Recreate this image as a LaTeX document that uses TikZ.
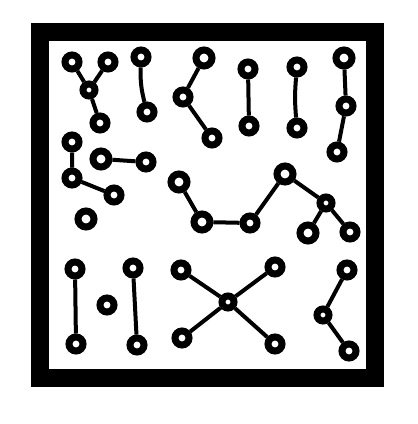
\documentclass[tikz,border=0pt]{standalone}
\begin{document}
\begin{tikzpicture}[x=1pt,y=-1pt,
  dot/.style={circle,draw=black,fill=white,line width=7pt,minimum size=14pt,inner sep=0pt},
  bigdot/.style={dot,minimum size=16pt},
  smalldot/.style={dot,minimum size=12pt},
  edge/.style={line width=4pt,black}]
\useasboundingbox (0,0) rectangle (418,424);
\fill[white] (0,0) rectangle (418,424);
% frame
\draw[line width=18pt,line join=miter] (40,32) rectangle (375,378);
% nodes
\node[dot] (a1) at (72,62) {};
\node[dot] (a2) at (108,62) {};
\node[smalldot] (a3) at (89,90) {};
\node[dot] (a4) at (100,123) {};
\node[dot] (b1) at (141,57) {};
\node[dot] (b2) at (147,112) {};
\node[bigdot] (c1) at (204,58) {};
\node[dot] (c2) at (183,97) {};
\node[dot] (c3) at (212,138) {};
\node[dot] (d1) at (72,142) {};
\node[dot] (d2) at (72,178) {};
\node[dot] (d3) at (114,195) {};
\node[bigdot] (e1) at (101,159) {};
\node[dot] (e2) at (146,162) {};
\node[bigdot] (f1) at (179,182) {};
\node[bigdot] (f2) at (202,222) {};
\node[dot] (f3) at (250,223) {};
\node[bigdot] (j) at (285,174) {};
\node[smalldot] (k) at (326,203) {};
\node[bigdot] (k2) at (308,233) {};
\node[dot] (k3) at (350,232) {};
\node[dot] (g1) at (248,69) {};
\node[dot] (g2) at (249,126) {};
\node[dot] (h1) at (297,67) {};
\node[dot] (h2) at (297,128) {};
\node[bigdot] (i1) at (344,58) {};
\node[dot] (i2) at (346,106) {};
\node[dot] (i3) at (337,152) {};
\node[smalldot] (x) at (228,302) {};
\node[dot] (x1) at (181,270) {};
\node[dot] (x2) at (275,267) {};
\node[dot] (x3) at (182,338) {};
\node[dot] (x4) at (275,344) {};
\node[dot] (l1) at (347,270) {};
\node[smalldot] (l2) at (323,315) {};
\node[dot] (l3) at (349,351) {};
\node[bigdot] (m) at (86,219) {};
\node[dot] (n1) at (75,269) {};
\node[dot] (n2) at (76,344) {};
\node[dot] (o) at (107,305) {};
\node[dot] (p1) at (133,268) {};
\node[dot] (p2) at (137,345) {};
% edges
\draw[edge] (a1) -- (a3) (a2) -- (a3) (a3) -- (a4);
\draw[edge] (b1) to[bend right=8] (b2);
\draw[edge] (c1) -- (c2) (c2) -- (c3);
\draw[edge] (d1) -- (d2) (d2) -- (d3);
\draw[edge] (e1) -- (e2);
\draw[edge] (f1) -- (f2) (f2) -- (f3) (f3) -- (j) (j) -- (k) (k) -- (k2) (k) -- (k3);
\draw[edge] (g1) -- (g2);
\draw[edge] (h1) to[bend right=5] (h2);
\draw[edge] (i1) -- (i2) (i2) -- (i3);
\draw[edge] (x) -- (x1) (x) -- (x2) (x) -- (x3) (x) -- (x4);
\draw[edge] (l1) -- (l2) (l2) -- (l3);
\draw[edge] (n1) -- (n2);
\draw[edge] (p1) -- (p2);
\end{tikzpicture}
\end{document}
